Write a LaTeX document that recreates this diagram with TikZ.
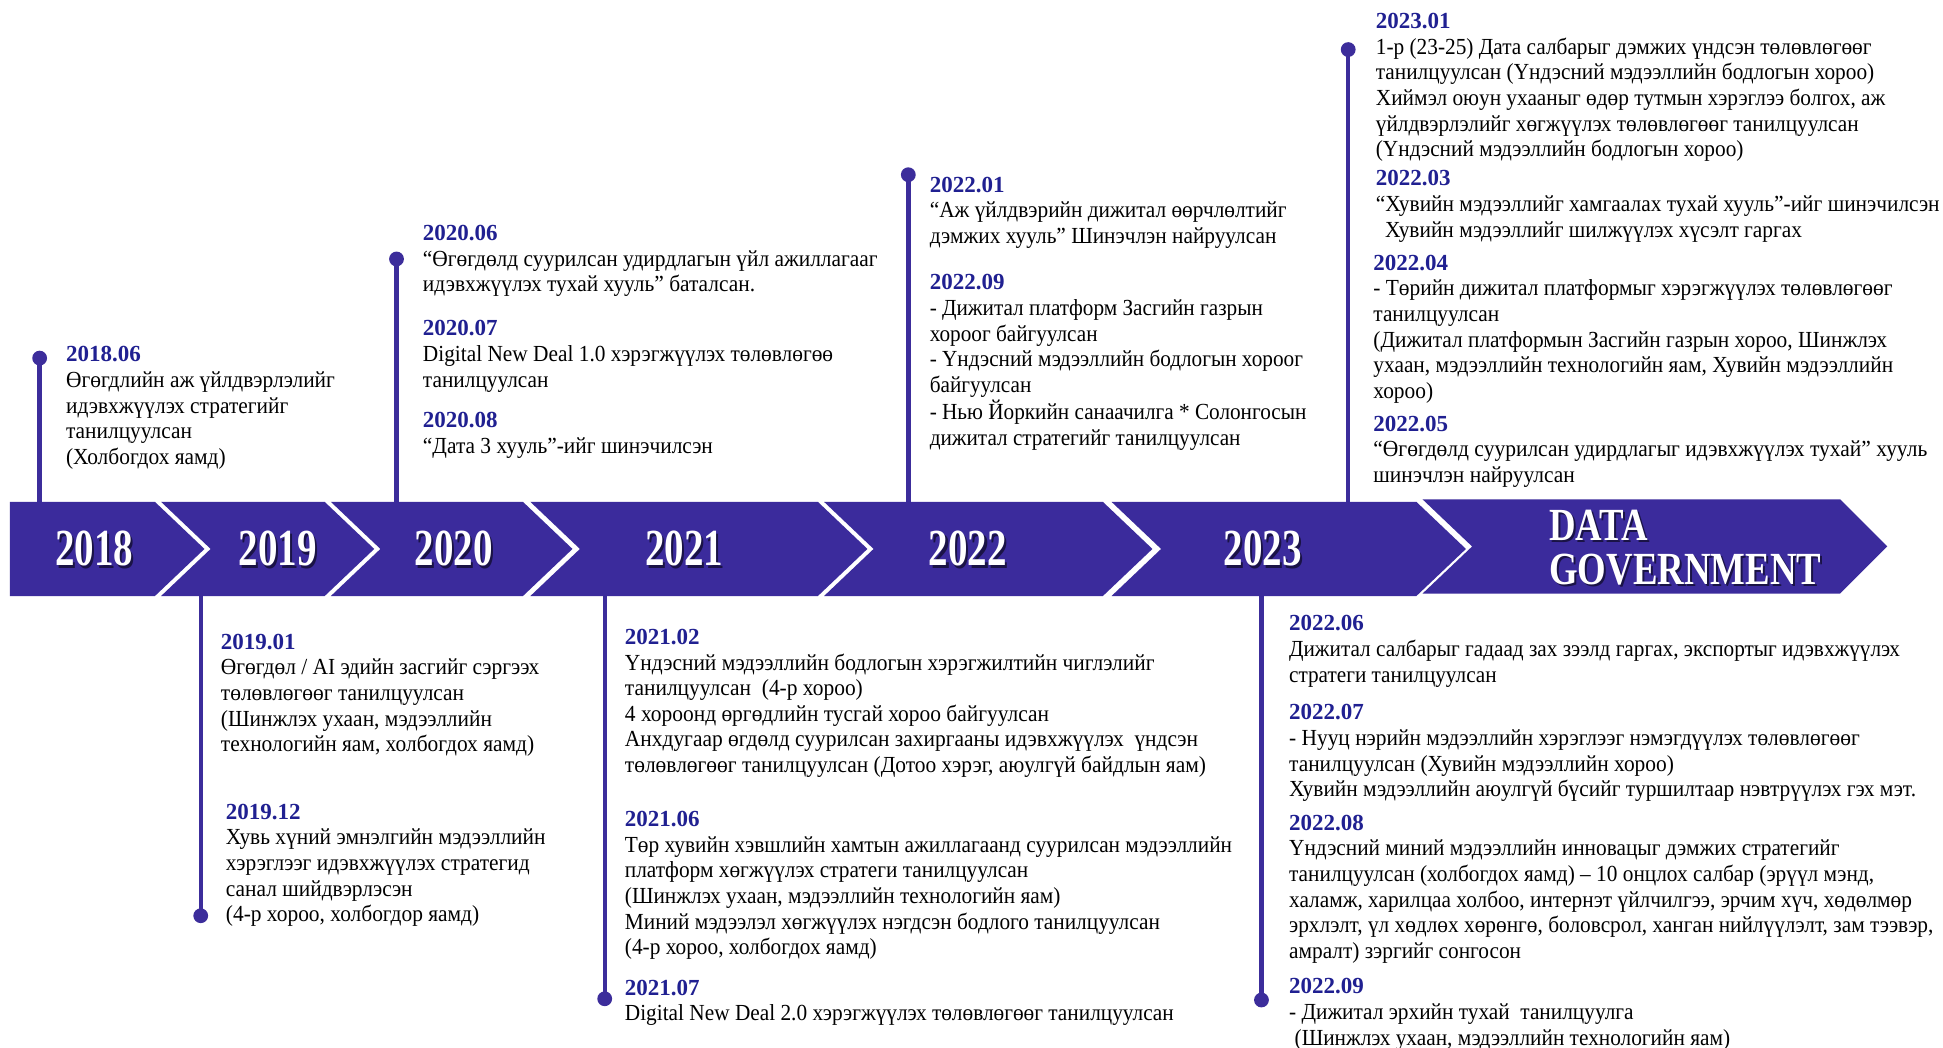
\documentclass[tikz,border=0pt]{standalone}
\usepackage{fontspec}
\setmainfont{Liberation Serif}
\usepackage{graphicx}
\definecolor{band}{RGB}{59,43,156}
\definecolor{navy}{RGB}{32,32,145}
\definecolor{tl}{RGB}{60,45,155}
\newlength\refw
\newcommand\bodyfont{\fontsize{11.5}{12.83}\selectfont}
\newcommand\titlefont{\fontsize{11.5}{12.83}\selectfont\bfseries\color{navy}}
% #1 name, #2 x, #3 baseline y, #4 target width, #5 reference line, #6 title, #7 body
\newcommand\entry[7]{%
  \node[anchor=base west, inner sep=0pt] (#1) at (#2,#3) {\normalfont\bodyfont\settowidth\refw{#5}\pgfmathsetmacro\bsc{#4*0.6196/\refw}\begin{tabular}[t]{@{}l@{}}{\titlefont #6}\\ \scalebox{\bsc}[1]{\begin{tabular}[t]{@{}l@{}}#7\end{tabular}}\end{tabular}};%
}
\newcommand\yeartext[1]{\scalebox{0.75}[1]{#1}}
\tikzset{
  yr/.style={text=white, inner sep=0pt, font=\fontsize{26}{26}\selectfont\bfseries},
  yrsh/.style={text=black, opacity=0.55, inner sep=0pt, font=\fontsize{26}{26}\selectfont\bfseries},
  dotnode/.style={circle, fill=tl, inner sep=0pt, minimum size=7.4pt},
  conn/.style={draw=tl, line width=2.2pt},
  seg/.style={fill=band},
}
\begin{document}
\begin{tikzpicture}[x=0.6196pt,y=-0.6196pt]
\useasboundingbox (0,0) rectangle (1568,845);
\fill[white] (0,0) rectangle (1568,845);

% connector end coordinates on the band
\coordinate (b18) at (32,405);
\coordinate (b20) at (320,405);
\coordinate (b22) at (733,405);
\coordinate (b23) at (1088,405);
\coordinate (b19) at (162,481);
\coordinate (b21) at (488,481);
\coordinate (b23b) at (1018,481);

% dots
\node[dotnode] (d18) at (32,289) {};
\node[dotnode] (d20) at (320,209) {};
\node[dotnode] (d22) at (733,141) {};
\node[dotnode] (d23) at (1088,40) {};
\node[dotnode] (d19) at (162,739) {};
\node[dotnode] (d21) at (488,806) {};
\node[dotnode] (d23b) at (1018,807) {};

\draw[conn] (d18.center) -- (b18);
\draw[conn] (d20.center) -- (b20);
\draw[conn] (d22.center) -- (b22);
\draw[conn] (d23.center) -- (b23);
\draw[conn] (b19) -- (d19.center);
\draw[conn] (b21) -- (d21.center);
\draw[conn] (b23b) -- (d23b.center);

% band segments
\fill[seg] (8,405) -- (125,405) -- (165,443) -- (125,481) -- (8,481) -- cycle;
\fill[seg] (130,405) -- (262,405) -- (302,443) -- (262,481) -- (130,481) -- (170,443) -- cycle;
\fill[seg] (267,405) -- (422,405) -- (462,443) -- (422,481) -- (267,481) -- (307,443) -- cycle;
\fill[seg] (428,405) -- (660,405) -- (700,443) -- (660,481) -- (428,481) -- (468,443) -- cycle;
\fill[seg] (665,405) -- (890,405) -- (930,443) -- (890,481) -- (665,481) -- (705,443) -- cycle;
\fill[seg] (897,405) -- (1143,405) -- (1183,443) -- (1143,481) -- (897,481) -- (937,443) -- cycle;
\fill[seg] (1148,403) -- (1485,403) -- (1523,441) -- (1485,479) -- (1148,479) -- (1188,441) -- cycle;

% year labels
\node[yrsh] (y18s) at (77.8,444.8) {\yeartext{2018}};
\node[yr] (y18) at (76,443) {\yeartext{2018}};
\node[yrsh] (y19s) at (225.8,444.8) {\yeartext{2019}};
\node[yr] (y19) at (224,443) {\yeartext{2019}};
\node[yrsh] (y20s) at (367.8,444.8) {\yeartext{2020}};
\node[yr] (y20) at (366,443) {\yeartext{2020}};
\node[yrsh] (y21s) at (553.8,444.8) {\yeartext{2021}};
\node[yr] (y21) at (552,443) {\yeartext{2021}};
\node[yrsh] (y22s) at (782.8,444.8) {\yeartext{2022}};
\node[yr] (y22) at (781,443) {\yeartext{2022}};
\node[yrsh] (y23s) at (1020.8,444.8) {\yeartext{2023}};
\node[yr] (y23) at (1019,443) {\yeartext{2023}};
\node[yrsh, anchor=west, align=left, font=\fontsize{23}{22.3}\selectfont\bfseries] (dgs) at (1251.5,443.5) {\scalebox{0.8}[1]{DATA}\\\scalebox{0.8}[1]{GOVERNMENT}};
\node[yr, anchor=west, align=left, font=\fontsize{23}{22.3}\selectfont\bfseries] (dg) at (1250,442) {\scalebox{0.8}[1]{DATA}\\\scalebox{0.8}[1]{GOVERNMENT}};

% top entries
\entry{e1806}{53}{292}{217}{Өгөгдлийн аж үйлдвэрлэлийг}{2018.06}{Өгөгдлийн аж үйлдвэрлэлийг\\идэвхжүүлэх стратегийг\\танилцуулсан\\(Холбогдох яамд)}
\entry{e2006}{341}{194}{367}{“Өгөгдөлд суурилсан удирдлагын үйл ажиллагааг}{2020.06}{“Өгөгдөлд суурилсан удирдлагын үйл ажиллагааг\\идэвхжүүлэх тухай хууль” баталсан.}
\entry{e2007}{341}{271}{331}{Digital New Deal 1.0 хэрэгжүүлэх төлөвлөгөө}{2020.07}{Digital New Deal 1.0 хэрэгжүүлэх төлөвлөгөө\\танилцуулсан}
\entry{e2008}{341}{345}{234}{“Дата 3 хууль”-ийг шинэчилсэн}{2020.08}{“Дата 3 хууль”-ийг шинэчилсэн}
\entry{e2201}{750}{155}{288}{“Аж үйлдвэрийн дижитал өөрчлөлтийг}{2022.01}{“Аж үйлдвэрийн дижитал өөрчлөлтийг\\дэмжих хууль” Шинэчлэн найруулсан}
\entry{e2209t}{750}{234}{304}{- Нью Йоркийн санаачилга * Солонгосын}{2022.09}{- Дижитал платформ Засгийн газрын\\хороог байгуулсан\\- Үндэсний мэдээллийн бодлогын хороог\\байгуулсан\\- Нью Йоркийн санаачилга * Солонгосын\\дижитал стратегийг танилцуулсан}
\entry{e2301}{1110}{23}{400}{1-р (23-25) Дата салбарыг дэмжих үндсэн төлөвлөгөөг}{2023.01}{1-р (23-25) Дата салбарыг дэмжих үндсэн төлөвлөгөөг\\танилцуулсан (Үндэсний мэдээллийн бодлогын хороо)\\Хиймэл оюун ухааныг өдөр тутмын хэрэглээ болгох, аж\\үйлдвэрлэлийг хөгжүүлэх төлөвлөгөөг танилцуулсан\\(Үндэсний мэдээллийн бодлогын хороо)}
\entry{e2203}{1110}{150}{455}{“Хувийн мэдээллийг хамгаалах тухай хууль”-ийг шинэчилсэн}{2022.03}{“Хувийн мэдээллийг хамгаалах тухай хууль”-ийг шинэчилсэн\\\hspace{5pt}Хувийн мэдээллийг шилжүүлэх хүсэлт гаргах}
\entry{e2204}{1108}{218}{419}{- Төрийн дижитал платформыг хэрэгжүүлэх төлөвлөгөөг}{2022.04}{- Төрийн дижитал платформыг хэрэгжүүлэх төлөвлөгөөг\\танилцуулсан\\(Дижитал платформын Засгийн газрын хороо, Шинжлэх\\ухаан, мэдээллийн технологийн яам, Хувийн мэдээллийн\\хороо)}
\entry{e2205}{1108}{348}{447}{“Өгөгдөлд суурилсан удирдлагыг идэвхжүүлэх тухай” хууль}{2022.05}{“Өгөгдөлд суурилсан удирдлагыг идэвхжүүлэх тухай” хууль\\шинэчлэн найруулсан}

% bottom entries
\entry{e1901}{178}{524}{257}{Өгөгдөл / AI эдийн засгийг сэргээх}{2019.01}{Өгөгдөл / AI эдийн засгийг сэргээх\\төлөвлөгөөг танилцуулсан\\(Шинжлэх ухаан, мэдээллийн\\технологийн яам, холбогдох яамд)}
\entry{e1912}{182}{661}{258}{Хувь хүний эмнэлгийн мэдээллийн}{2019.12}{Хувь хүний эмнэлгийн мэдээллийн\\хэрэглээг идэвхжүүлэх стратегид\\санал шийдвэрлэсэн\\(4-р хороо, холбогдор яамд)}
\entry{e2102}{504}{520}{469}{төлөвлөгөөг танилцуулсан (Дотоо хэрэг, аюулгүй байдлын яам)}{2021.02}{Үндэсний мэдээллийн бодлогын хэрэгжилтийн чиглэлийг\\танилцуулсан\ \ (4-р хороо)\\4 хороонд өргөдлийн тусгай хороо байгуулсан\\Анхдугаар өгдөлд суурилсан захиргааны идэвхжүүлэх\ \ үндсэн\\төлөвлөгөөг танилцуулсан (Дотоо хэрэг, аюулгүй байдлын яам)}
\entry{e2106}{504}{667}{490}{Төр хувийн хэвшлийн хамтын ажиллагаанд суурилсан мэдээллийн}{2021.06}{Төр хувийн хэвшлийн хамтын ажиллагаанд суурилсан мэдээллийн\\платформ хөгжүүлэх стратеги танилцуулсан\\(Шинжлэх ухаан, мэдээллийн технологийн яам)\\Миний мэдээлэл хөгжүүлэх нэгдсэн бодлого танилцуулсан\\(4-р хороо, холбогдох яамд)}
\entry{e2107}{504}{803}{443}{Digital New Deal 2.0 хэрэгжүүлэх төлөвлөгөөг танилцуулсан}{2021.07}{Digital New Deal 2.0 хэрэгжүүлэх төлөвлөгөөг танилцуулсан}
\entry{e2206}{1040}{509}{493}{Дижитал салбарыг гадаад зах зээлд гаргах, экспортыг идэвхжүүлэх}{2022.06}{Дижитал салбарыг гадаад зах зээлд гаргах, экспортыг идэвхжүүлэх\\стратеги танилцуулсан}
\entry{e2207}{1040}{581}{506}{Хувийн мэдээллийн аюулгүй бүсийг туршилтаар нэвтрүүлэх гэх мэт.}{2022.07}{- Нууц нэрийн мэдээллийн хэрэглээг нэмэгдүүлэх төлөвлөгөөг\\танилцуулсан (Хувийн мэдээллийн хороо)\\Хувийн мэдээллийн аюулгүй бүсийг туршилтаар нэвтрүүлэх гэх мэт.}
\entry{e2208}{1040}{670}{520}{эрхлэлт, үл хөдлөх хөрөнгө, боловсрол, ханган нийлүүлэлт, зам тээвэр,}{2022.08}{Үндэсний миний мэдээллийн инновацыг дэмжих стратегийг\\танилцуулсан (холбогдох яамд) – 10 онцлох салбар (эрүүл мэнд,\\халамж, харилцаа холбоо, интернэт үйлчилгээ, эрчим хүч, хөдөлмөр\\эрхлэлт, үл хөдлөх хөрөнгө, боловсрол, ханган нийлүүлэлт, зам тээвэр,\\амралт) зэргийг сонгосон}
\entry{e2209b}{1040}{802}{278}{- Дижитал эрхийн тухай\ \ танилцуулга}{2022.09}{- Дижитал эрхийн тухай\ \ танилцуулга\\\hspace{3pt}(Шинжлэх ухаан, мэдээллийн технологийн яам)}
\end{tikzpicture}
\end{document}
